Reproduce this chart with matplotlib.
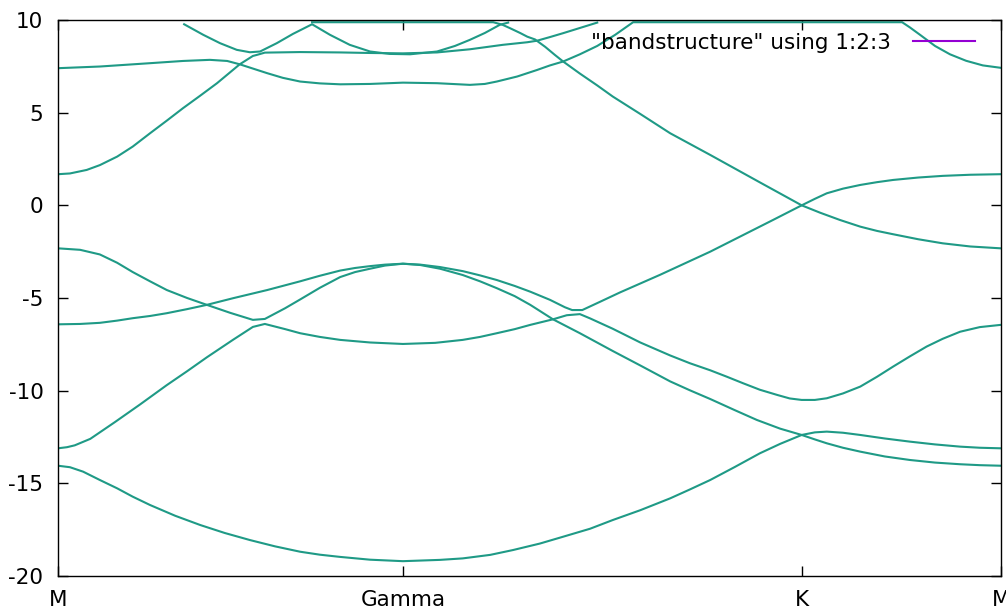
import numpy as np
import matplotlib
matplotlib.use("Agg")
import matplotlib.pyplot as plt
from matplotlib.lines import Line2D

# high-symmetry points along the path (path length units)
kpath_ticks = [0.0, 0.5774, 1.2440, 1.5774]
kpath_labels = ["M", "Gamma", "K", "M"]

yticks = [-20, -15, -10, -5, 0, 5, 10]

# bands: (k, E) samples along M-Gamma-K-M
band1_k = [0.000, 0.020, 0.042, 0.070, 0.099, 0.125, 0.154, 0.196, 0.238, 0.279, 0.321, 0.363,
           0.405, 0.438, 0.472, 0.522, 0.577, 0.639, 0.677, 0.723, 0.761, 0.806, 0.845, 0.890,
           0.928, 0.974, 1.024, 1.057, 1.091, 1.132, 1.174, 1.208, 1.244, 1.266, 1.286, 1.313,
           1.342, 1.383, 1.425, 1.467, 1.509, 1.542, 1.577]
band1_e = [-14.05, -14.13, -14.37, -14.82, -15.27, -15.72, -16.17, -16.75, -17.25, -17.68, -18.06, -18.40,
           -18.69, -18.85, -18.97, -19.12, -19.20, -19.13, -19.05, -18.86, -18.60, -18.25, -17.88, -17.45,
           -16.98, -16.45, -15.81, -15.33, -14.82, -14.12, -13.38, -12.87, -12.39, -12.25, -12.21, -12.27,
           -12.39, -12.58, -12.75, -12.90, -13.02, -13.08, -13.11]

band2_k = [0.000, 0.015, 0.028, 0.054, 0.095, 0.137, 0.182, 0.216, 0.249, 0.293, 0.326, 0.346,
           0.380, 0.405, 0.438, 0.472, 0.522, 0.577, 0.631, 0.677, 0.706, 0.734, 0.764, 0.790,
           0.828, 0.851, 0.873, 0.890, 0.928, 0.974, 1.024, 1.057, 1.091, 1.119, 1.146, 1.174,
           1.203, 1.224, 1.244, 1.266, 1.286, 1.313, 1.342, 1.370, 1.397, 1.425, 1.453, 1.480,
           1.509, 1.542, 1.577]
band2_e = [-13.11, -13.05, -12.95, -12.60, -11.70, -10.75, -9.70, -8.95, -8.20, -7.25, -6.56, -6.40,
           -6.68, -6.90, -7.10, -7.26, -7.40, -7.48, -7.42, -7.26, -7.10, -6.90, -6.68, -6.45,
           -6.15, -5.93, -5.87, -6.10, -6.66, -7.40, -8.10, -8.52, -8.90, -9.25, -9.60, -9.95,
           -10.23, -10.42, -10.50, -10.50, -10.41, -10.15, -9.78, -9.25, -8.70, -8.15, -7.62, -7.20,
           -6.82, -6.57, -6.45]

band3_k = [0.000, 0.037, 0.070, 0.099, 0.125, 0.154, 0.182, 0.216, 0.249, 0.293, 0.350, 0.405,
           0.438, 0.472, 0.497, 0.522, 0.547, 0.577, 0.606, 0.639, 0.677, 0.706, 0.734, 0.764,
           0.790, 0.828, 0.873, 0.928, 0.974, 1.024, 1.057, 1.091, 1.132, 1.169, 1.208, 1.244,
           1.266, 1.286, 1.313, 1.342, 1.383, 1.425, 1.467, 1.509, 1.542, 1.577]
band3_e = [-6.42, -6.40, -6.34, -6.22, -6.09, -5.97, -5.82, -5.60, -5.37, -5.01, -4.57, -4.10,
           -3.80, -3.52, -3.38, -3.28, -3.20, -3.15, -3.22, -3.42, -3.76, -4.10, -4.47, -4.90,
           -5.37, -6.15, -6.90, -7.86, -8.64, -9.50, -9.98, -10.45, -11.05, -11.58, -12.05, -12.39,
           -12.63, -12.84, -13.08, -13.29, -13.55, -13.74, -13.88, -13.97, -14.02, -14.05]

band4_k = [0.000, 0.037, 0.070, 0.099, 0.125, 0.154, 0.182, 0.216, 0.249, 0.288, 0.326, 0.346,
           0.380, 0.405, 0.438, 0.472, 0.497, 0.522, 0.547, 0.577, 0.606, 0.639, 0.677, 0.706,
           0.734, 0.764, 0.790, 0.823, 0.848, 0.860, 0.877, 0.907, 0.940, 1.007, 1.091, 1.196,
           1.244, 1.266, 1.286, 1.313, 1.342, 1.370, 1.397, 1.439, 1.480, 1.526, 1.577]
band4_e = [-2.32, -2.40, -2.65, -3.10, -3.60, -4.10, -4.57, -5.00, -5.37, -5.80, -6.18, -6.13,
           -5.55, -5.08, -4.45, -3.87, -3.60, -3.42, -3.25, -3.15, -3.20, -3.33, -3.55, -3.78,
           -4.03, -4.35, -4.66, -5.10, -5.50, -5.65, -5.65, -5.20, -4.70, -3.75, -2.50, -0.79,
           0.00, 0.35, 0.65, 0.90, 1.10, 1.25, 1.37, 1.50, 1.59, 1.65, 1.68]

band5_k = [0.000, 0.020, 0.048, 0.070, 0.099, 0.125, 0.154, 0.182, 0.209, 0.238, 0.266, 0.304,
           0.326, 0.333, 0.346, 0.405, 0.472, 0.522, 0.577, 0.634, 0.689, 0.744, 0.785, 0.801,
           0.823, 0.845, 0.873, 0.902]
band5_e = [1.68, 1.72, 1.91, 2.17, 2.63, 3.17, 3.89, 4.57, 5.24, 5.92, 6.59, 7.61,
           8.06, 8.12, 8.24, 8.27, 8.25, 8.22, 8.20, 8.25, 8.42, 8.66, 8.80, 8.88,
           9.08, 9.29, 9.57, 9.86]

band6_k = [0.000, 0.070, 0.154, 0.209, 0.254, 0.283, 0.304, 0.326, 0.350, 0.376, 0.405, 0.438,
           0.472, 0.522, 0.577, 0.634, 0.689, 0.714, 0.734, 0.768, 0.801, 0.823, 0.845, 0.873,
           0.902, 0.932, 0.962, 1.412, 1.425, 1.442, 1.467, 1.492, 1.519, 1.547, 1.577]
band6_e = [7.40, 7.49, 7.67, 7.79, 7.85, 7.79, 7.61, 7.38, 7.13, 6.88, 6.68, 6.58,
           6.53, 6.55, 6.62, 6.59, 6.50, 6.55, 6.68, 6.95, 7.30, 7.55, 7.76, 8.15,
           8.60, 9.20, 9.88, 9.88, 9.60, 9.20, 8.60, 8.15, 7.80, 7.55, 7.42]

band7_k = [0.211, 0.243, 0.271, 0.299, 0.321, 0.338, 0.366, 0.393, 0.425, 0.455, 0.488, 0.522,
           0.555, 0.589, 0.634, 0.664, 0.689, 0.714, 0.739, 0.753]
band7_e = [9.77, 9.20, 8.75, 8.39, 8.26, 8.30, 8.75, 9.25, 9.77, 9.20, 8.66, 8.30,
           8.17, 8.15, 8.30, 8.60, 8.93, 9.30, 9.74, 9.86]

band8_k = [0.425, 0.728, 0.743, 0.756, 0.773, 0.785, 0.798, 0.815, 0.831, 0.845, 0.873, 0.902,
           0.928, 0.974, 1.024, 1.091, 1.174, 1.244, 1.275, 1.308, 1.342, 1.370, 1.397, 1.439,
           1.480, 1.526, 1.577]
band8_e = [9.88, 9.88, 9.75, 9.56, 9.30, 9.10, 8.95, 8.55, 8.12, 7.76, 7.11, 6.47,
           5.87, 4.93, 3.89, 2.72, 1.24, 0.00, -0.40, -0.79, -1.15, -1.38, -1.56, -1.83,
           -2.05, -2.22, -2.32]

bands = [
    (band1_k, band1_e), (band2_k, band2_e), (band3_k, band3_e), (band4_k, band4_e),
    (band5_k, band5_e), (band6_k, band6_e), (band7_k, band7_e), (band8_k, band8_e),
]

band_color = "#1f9a86"
key_color = "#9400d3"
key_label = '"bandstructure" using 1:2:3'

plt.rcParams["font.family"] = ["DejaVu Sans"]
fs = 15.5

fig = plt.figure(figsize=(10.06, 6.13), dpi=100)
ax = fig.add_axes([58 / 1006, 1 - 576 / 613, (1001 - 58) / 1006, (576 - 20) / 613])

for k, e in bands:
    ax.plot(k, e, color=band_color, lw=1.5, solid_joinstyle="round")

ax.set_xlim(kpath_ticks[0], kpath_ticks[-1])
ax.set_ylim(-20, 10)
ax.set_xticks(kpath_ticks)
ax.set_xticklabels(kpath_labels)
ax.set_yticks(yticks)
ax.set_yticklabels([str(v) for v in yticks])

ax.tick_params(axis="both", direction="in", length=7, width=1.0, labelsize=fs,
               top=True, right=True, colors="black")
ax.tick_params(axis="y", pad=10.5)
ax.tick_params(axis="x", pad=10)
for s in ax.spines.values():
    s.set_linewidth(1.0)
    s.set_color("black")

handle = Line2D([], [], color=key_color, lw=1.5)
leg = ax.legend([handle], [key_label], loc="center right", markerfirst=False,
                frameon=False, fontsize=fs, handlelength=2.9, handletextpad=1.0,
                borderpad=0.0, borderaxespad=0.0,
                bbox_to_anchor=(975 / 1006, 1 - 43 / 613), bbox_transform=fig.transFigure)

fig.savefig("out.png", dpi=100)
